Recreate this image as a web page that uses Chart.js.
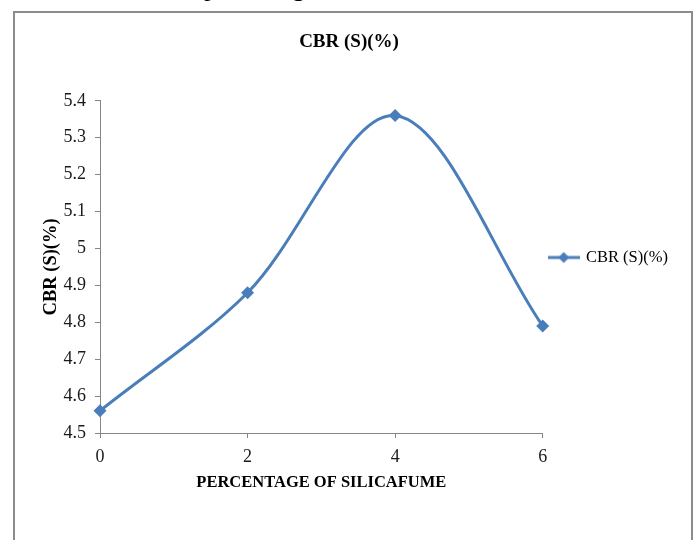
<!DOCTYPE html>
<html>
<head>
<meta charset="utf-8">
<title>CBR (S)(%)</title>
<script src="https://cdn.jsdelivr.net/npm/chart.js@4.4.1/dist/chart.umd.min.js"></script>
<style>
  html, body { margin: 0; padding: 0; background: #fff; }
  body { position: relative; width: 694px; height: 540px; overflow: hidden; }
  #caption {
    position: absolute; left: 204px; top: -25px;
    font: 26px/26px "Liberation Serif", "Times New Roman", serif; color: #000;
  }
  #frame {
    position: absolute; left: 13px; top: 11px; width: 676px; height: 540px;
    border: 2px solid #8c8c8c; border-bottom: none;
  }
  #chart { position: absolute; left: 0; top: 0; }
</style>
</head>
<body>
<div id="caption">percentage</div>
<div id="frame"></div>
<canvas id="chart" width="694" height="540"></canvas>
<script>
const silicaFume = ["0", "2", "4", "6"];
const cbrValues = [4.56, 4.88, 5.36, 4.79];
const seriesName = "CBR (S)(%)";
const yTickMin = 4.5;
const yTickMax = 5.4;

const blue = "#4a7ebb";
const axisGray = "#868686";
const serif = "'Liberation Serif', 'Times New Roman', serif";

// little line-with-diamond icon used as the legend symbol
function legendIcon() {
  const c = document.createElement("canvas");
  c.width = 32;
  c.height = 14;
  const g = c.getContext("2d");
  g.strokeStyle = blue;
  g.lineWidth = 3;
  g.beginPath();
  g.moveTo(0, 7);
  g.lineTo(32, 7);
  g.stroke();
  g.fillStyle = blue;
  g.beginPath();
  g.moveTo(16, 1.5);
  g.lineTo(21.5, 7);
  g.lineTo(16, 12.5);
  g.lineTo(10.5, 7);
  g.closePath();
  g.fill();
  return c;
}

// small position tweaks after layout: legend a bit lower, title a bit left
const nudge = {
  id: "nudge",
  afterLayout(chart) {
    if (chart.legend) {
      chart.legend.top += 3;
      chart.legend.bottom += 3;
    }
    if (chart.titleBlock) {
      chart.titleBlock.left -= 6;
      chart.titleBlock.right -= 6;
    }
  }
};

const icon = legendIcon();

new Chart(document.getElementById("chart"), {
  type: "line",
  data: {
    labels: silicaFume,
    datasets: [{
      label: seriesName,
      data: cbrValues,
      borderColor: blue,
      backgroundColor: blue,
      borderWidth: 3,
      tension: 0.33,
      pointStyle: "rectRot",
      pointRadius: 6.5,
      pointHoverRadius: 6.5,
      pointBorderWidth: 0,
      fill: false
    }]
  },
  options: {
    responsive: false,
    animation: false,
    layout: { padding: { top: 14, left: 32, right: 16, bottom: 45 } },
    plugins: {
      title: {
        display: true,
        text: seriesName,
        color: "#000",
        font: { family: serif, size: 19, weight: "bold" },
        padding: { top: 17, bottom: 47 }
      },
      legend: {
        position: "right",
        align: "center",
        labels: {
          usePointStyle: true,
          pointStyleWidth: 28,
          padding: 7,
          color: "#000",
          font: { family: serif, size: 16.5 },
          generateLabels(chart) {
            return [{
              text: seriesName,
              pointStyle: icon,
              fillStyle: blue,
              strokeStyle: blue,
              lineWidth: 0,
              datasetIndex: 0
            }];
          }
        }
      },
      tooltip: { enabled: false }
    },
    scales: {
      x: {
        offset: false,
        border: { color: axisGray, width: 1 },
        grid: { drawOnChartArea: false, tickLength: 5, color: axisGray },
        ticks: { color: "#1a1a1a", padding: 8, font: { family: serif, size: 18 } },
        title: {
          display: true,
          text: "PERCENTAGE OF SILICAFUME",
          color: "#000",
          font: { family: serif, size: 16.5, weight: "bold" },
          padding: { top: 0, bottom: 2 }
        },
        afterFit(scale) { scale.height = 62; }
      },
      y: {
        min: yTickMin,
        max: yTickMax,
        border: { color: axisGray, width: 1 },
        grid: { drawOnChartArea: false, tickLength: 5, color: axisGray },
        ticks: {
          stepSize: 0.1,
          color: "#1a1a1a",
          padding: 9,
          font: { family: serif, size: 18 },
          callback: v => String(parseFloat(v.toFixed(1)))
        },
        title: {
          display: true,
          text: seriesName,
          color: "#000",
          font: { family: serif, size: 18.5, weight: "bold" },
          padding: { top: 8, bottom: 0 }
        },
        afterFit(scale) { scale.width = 68; }
      }
    }
  },
  plugins: [nudge]
});
</script>
</body>
</html>
